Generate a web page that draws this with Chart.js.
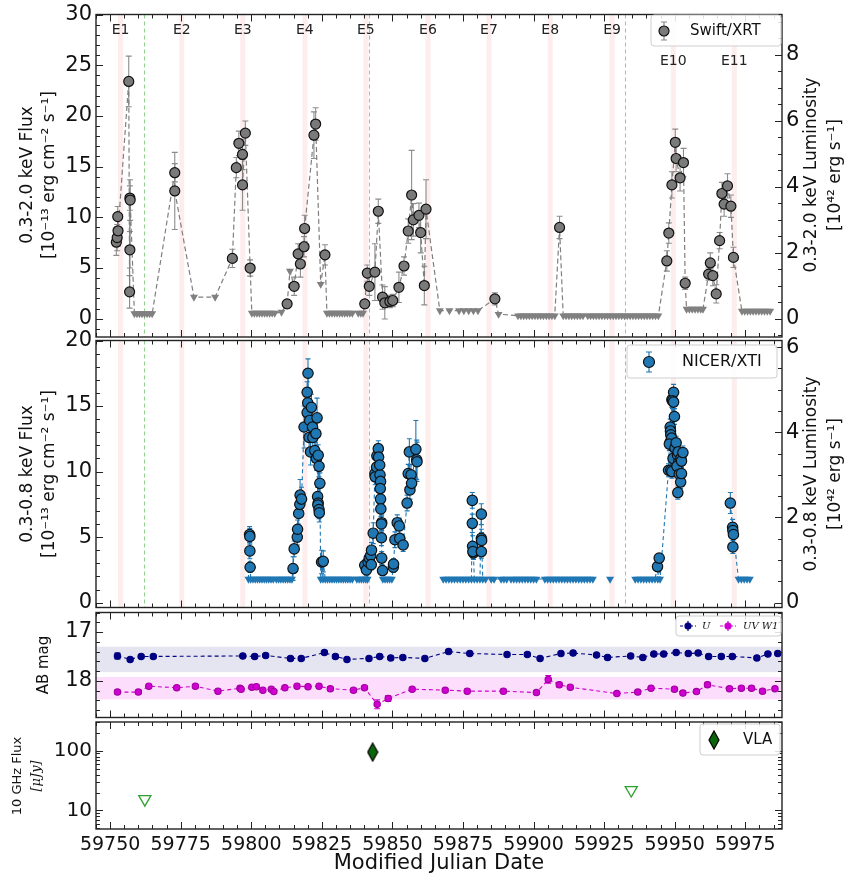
<!DOCTYPE html>
<html>
<head>
<meta charset="utf-8">
<script src="https://cdn.jsdelivr.net/npm/chart.js@4"></script>
<style>
  body { margin: 0; background: #fff; }
  #wrap { position: relative; width: 850px; height: 879px; }
  canvas { position: absolute; left: 0; }
</style>
</head>
<body>
<div id="wrap">
  <canvas id="c1" width="850" height="352" style="top:0px"></canvas>
  <canvas id="c2" width="850" height="296" style="top:326px"></canvas>
  <canvas id="c3" width="850" height="134" style="top:598px"></canvas>
  <canvas id="c4" width="850" height="171" style="top:708px"></canvas>
</div>
<script>
// ---- data ----
const eventT = [59753.7, 59775.4, 59797.0, 59819.0, 59840.6, 59862.6, 59884.2, 59905.9, 59927.8, 59949.5, 59971.1];
const eventLabels = ['E1', 'E2', 'E3', 'E4', 'E5', 'E6', 'E7', 'E8', 'E9', 'E10', 'E11'];
const vlaEpochs = [59761.9, 59841.7, 59932.5];

// Swift/XRT 0.3-2 keV flux (1e-13 cgs)
const swiftT = [59752.2, 59752.5, 59752.8, 59752.7, 59756.6, 59757.0, 59757.1, 59757.0, 59756.9,
  59772.9, 59772.9,
  59793.3, 59794.7, 59795.6, 59796.9, 59796.9, 59797.9, 59799.6,
  59812.7, 59815.2, 59816.6, 59817.4, 59818.7, 59818.9, 59822.2, 59822.8, 59826.1,
  59840.2, 59841.1, 59841.8, 59843.8, 59845.0, 59846.5, 59847.3, 59849.1, 59850.1, 59852.3, 59854.1, 59855.6, 59856.8, 59857.4, 59859.4, 59860.0, 59861.3, 59861.9,
  59886.3, 59909.2,
  59947.2, 59947.9, 59949.0, 59950.2, 59950.5, 59951.9, 59953.1, 59953.7,
  59962.0, 59962.6, 59963.5, 59964.7, 59965.9, 59966.7, 59967.5, 59968.7, 59969.9, 59970.8];
const swiftF = [7.55, 8.0, 8.67, 10.07, 23.4, 11.9, 11.7, 6.8, 2.65,
  14.4, 12.6,
  5.95, 14.9, 17.3, 16.2, 13.2, 18.3, 5.0,
  1.47, 3.2, 6.4, 5.4, 7.1, 8.9, 18.1, 19.2, 6.3,
  1.47, 4.5, 3.2, 4.6, 10.6, 2.13, 1.57, 1.7, 1.8, 3.1, 5.2, 8.65, 12.2, 9.75, 10.2, 8.5, 3.27, 10.8,
  1.96, 9.0,
  5.7, 8.45, 13.2, 17.4, 15.8, 13.9, 15.4, 3.5,
  4.4, 5.5, 4.25, 2.45, 7.7, 12.35, 11.3, 13.1, 11.1, 6.05];
const swiftE = [1.3, 1.3, 1.5, 1.0, 2.5, 1.2, 2.0, 1.8, 1.6,
  0.9, 3.8,
  0.9, 1.0, 1.2, 1.5, 2.5, 1.2, 0.8,
  0.4, 0.9, 1.0, 1.3, 1.0, 1.3, 2.3, 1.6, 1.0,
  0.4, 0.8, 0.9, 2.8, 1.2, 1.2, 1.6, 0.6, 0.6, 1.5, 0.9, 1.2, 4.4, 1.6, 1.2, 2.0, 1.9, 2.9,
  0.6, 1.1,
  1.0, 1.0, 1.3, 1.3, 1.3, 1.3, 1.4, 0.6,
  0.6, 1.0, 1.0, 0.9, 0.8, 1.1, 1.2, 1.2, 1.1, 1.0];
const swiftUlT = [59758.6, 59759.5, 59760.4, 59761.3, 59762.2, 59763.1, 59764.0, 59764.9,
  59779.7, 59787.2,
  59800.2, 59801.1, 59802.0, 59802.9, 59803.8, 59804.7, 59805.6, 59806.5, 59807.4, 59808.3, 59810.7,
  59813.7, 59824.6,
  59826.8, 59827.7, 59828.6, 59829.5, 59830.4, 59831.3, 59832.2, 59833.1, 59834.0, 59834.9, 59835.8, 59837.9, 59838.8, 59839.6,
  59866.8, 59870.2, 59873.6, 59875.3, 59877.0, 59878.7, 59880.3,
  59887.6,
  59894.5, 59895.5, 59896.5, 59897.5, 59898.5, 59899.5, 59900.5, 59901.5, 59902.5, 59903.5, 59904.5, 59905.5, 59906.5, 59907.5,
  59910.5, 59911.5, 59912.5, 59913.5, 59914.5, 59915.5, 59916.5, 59917.5,
  59919.2, 59920.2, 59921.2, 59922.2, 59923.2, 59924.2, 59925.2, 59926.2, 59927.2, 59928.2, 59929.2, 59930.2, 59931.2,
  59932.2, 59933.2, 59934.2, 59935.2, 59936.2, 59937.2, 59938.2, 59939.2, 59940.2, 59941.2, 59942.2, 59943.2, 59944.2,
  59954.2, 59955.2, 59956.2, 59957.2, 59958.2, 59959.2, 59960.0,
  59973.8, 59974.8, 59975.8, 59976.8, 59977.8, 59978.8, 59979.8, 59980.8, 59981.8, 59982.8, 59983.8];
const swiftUlF = [0.5, 0.5, 0.5, 0.5, 0.5, 0.5, 0.5, 0.5,
  2.13, 2.13,
  0.55, 0.55, 0.55, 0.55, 0.55, 0.55, 0.55, 0.55, 0.55, 0.55, 0.65,
  4.7, 3.4,
  0.55, 0.55, 0.55, 0.55, 0.55, 0.55, 0.55, 0.55, 0.55, 0.55, 0.55, 0.55, 0.55, 0.55,
  0.8, 0.8, 0.8, 0.8, 0.8, 0.8, 0.8,
  0.45,
  0.3, 0.3, 0.3, 0.3, 0.3, 0.3, 0.3, 0.3, 0.3, 0.3, 0.3, 0.3, 0.3, 0.3,
  0.3, 0.3, 0.3, 0.3, 0.3, 0.3, 0.3, 0.3,
  0.3, 0.3, 0.3, 0.3, 0.3, 0.3, 0.3, 0.3, 0.3, 0.3, 0.3, 0.3, 0.3,
  0.3, 0.3, 0.3, 0.3, 0.3, 0.3, 0.3, 0.3, 0.3, 0.3, 0.3, 0.3, 0.3,
  0.95, 0.95, 0.95, 0.95, 0.95, 0.95, 0.95,
  0.75, 0.75, 0.75, 0.75, 0.75, 0.75, 0.75, 0.75, 0.75, 0.75, 0.75];

// NICER/XTI 0.3-0.8 keV flux
const nicerT = [59799.4, 59799.5, 59799.5, 59799.6,
  59814.8, 59815.2, 59816.3, 59816.4, 59816.8, 59817.2, 59817.3, 59817.8,
  59818.7, 59819.8, 59820.1, 59820.0, 59819.8, 59820.7, 59821.3, 59820.5, 59821.0, 59821.7, 59821.8, 59822.9, 59823.3, 59822.5, 59823.1, 59823.7, 59824.0, 59824.3, 59823.5, 59823.7, 59823.6, 59824.0, 59824.1,
  59824.9, 59825.5,
  59840.2, 59840.8, 59841.4, 59841.8, 59842.3, 59842.6, 59842.5, 59843.2,
  59843.8, 59843.9, 59844.4, 59844.5, 59845.0, 59845.1, 59845.6, 59845.5, 59845.8, 59845.7, 59845.8, 59845.9, 59846.2, 59846.1, 59846.1, 59846.2, 59846.5,
  59850.3, 59850.4, 59850.9, 59851.7, 59852.4, 59852.6, 59853.8,
  59855.2, 59855.6, 59856.0, 59856.2, 59856.6, 59856.8, 59858.3, 59858.6, 59858.7,
  59878.3, 59878.3, 59878.4, 59878.7, 59878.5,
  59881.5, 59881.5, 59881.6, 59881.5,
  59943.9, 59944.5,
  59947.8, 59948.4, 59948.5, 59948.6, 59949.0, 59949.6, 59949.2, 59949.6, 59949.9, 59948.4, 59948.9, 59949.5, 59948.1, 59950.1, 59950.5,
  59948.6, 59949.0, 59949.4, 59951.0, 59951.2, 59951.4, 59950.8, 59952.2, 59952.4, 59951.6, 59952.1, 59952.4, 59951.1, 59952.9,
  59969.7, 59970.5, 59970.6, 59970.8, 59970.6];
const nicerF = [5.2, 5.05, 3.95, 2.7,
  2.6, 4.1, 5.0, 5.6, 6.8, 7.5, 8.2, 7.9,
  13.4, 16.05, 17.5, 15.25, 14.5, 13.9, 14.9, 12.6, 11.5, 13.4, 12.6, 12.9, 14.1, 11.6, 11.0, 11.25, 10.4, 9.1, 8.1, 7.6, 7.45, 7.1, 6.85,
  3.1, 3.15,
  2.85, 2.5, 3.1, 3.4, 3.6, 4.0, 2.9, 5.3,
  9.85, 9.6, 10.35, 11.2, 11.75, 11.1, 9.75, 10.5, 9.25, 8.7, 7.9, 7.15, 6.1, 6.0, 4.95, 3.4, 2.45,
  2.7, 2.95, 4.8, 6.1, 5.85, 4.9, 4.4,
  7.6, 9.85, 11.5, 8.6, 9.75, 9.1, 11.7, 10.9, 10.75,
  7.8, 6.05, 4.3, 3.8, 3.9,
  6.75, 4.9, 4.75, 3.9,
  2.75, 3.4,
  10.1, 13.4, 13.1, 12.8, 15.5, 16.05, 15.4, 15.3, 14.2, 12.25, 12.55, 11.9, 12.1, 11.8, 12.2,
  10.1, 10.0, 11.0, 11.25, 11.5, 10.7, 10.4, 11.0, 10.8, 9.8, 9.2, 9.85, 8.4, 11.45,
  7.6, 5.75, 5.5, 5.2, 4.25];
const nicerE = [0.6, 0.6, 0.6, 0.4,
  0.9, 0.6, 0.6, 0.7, 0.8, 0.8, 1.2, 0.9,
  1.6, 0.8, 1.1, 1.0, 1.0, 1.0, 1.0, 1.1, 1.0, 0.9, 1.0, 1.0, 1.5, 0.9, 0.9, 0.8, 0.8, 0.8, 0.7, 0.7, 0.7, 0.7, 0.7,
  0.9, 0.8,
  0.4, 0.4, 0.5, 0.5, 0.5, 0.6, 0.4, 0.8,
  0.6, 0.6, 0.7, 0.8, 0.6, 0.7, 0.7, 0.7, 0.6, 0.6, 0.6, 0.6, 0.6, 0.6, 0.6, 0.5, 0.4,
  0.4, 0.4, 0.6, 0.6, 0.6, 0.6, 0.5,
  0.6, 0.7, 1.0, 0.7, 0.8, 0.7, 2.2, 1.5, 1.5,
  0.6, 0.7, 0.8, 0.5, 0.5,
  0.8, 0.7, 0.6, 0.5,
  0.3, 0.3,
  0.5, 0.6, 0.5, 0.5, 0.6, 0.6, 0.6, 0.6, 0.6, 0.5, 0.5, 0.5, 0.5, 0.5, 0.5,
  0.5, 0.5, 0.5, 0.5, 0.5, 0.5, 0.5, 0.5, 0.5, 0.5, 0.5, 0.5, 0.5, 0.5,
  0.8, 0.6, 0.6, 0.6, 0.5];
const nicerUlT = [59799.0, 59799.8, 59800.6, 59801.4, 59802.2, 59803.0, 59803.8, 59804.6, 59805.4, 59806.2,
  59807.0, 59807.8, 59808.9, 59809.7, 59810.5, 59811.3, 59812.1, 59812.9, 59813.7, 59814.4,
  59824.6, 59825.4, 59826.2, 59827.0, 59827.8, 59828.6, 59829.4, 59830.2, 59831.0, 59831.8,
  59832.6, 59833.4, 59834.2, 59835.0, 59835.8, 59837.4, 59838.2, 59839.0, 59839.8, 59840.6, 59841.2,
  59846.6, 59847.4, 59848.2, 59849.0, 59849.8,
  59868, 59869, 59870, 59871, 59872, 59873, 59874, 59875, 59876, 59877, 59878, 59879, 59880, 59881, 59882, 59883,
  59885, 59886, 59888.5, 59889.5, 59890.5, 59892, 59893, 59894, 59895, 59896, 59897, 59898, 59899, 59900, 59901,
  59904, 59905, 59906, 59907, 59908, 59909, 59910, 59911, 59912, 59913, 59914, 59915, 59916, 59917, 59918, 59919, 59920, 59921,
  59927.1,
  59936, 59937, 59938, 59939, 59940, 59941, 59942, 59943, 59944, 59944.8,
  59972.6, 59973.6, 59974.6, 59975.6, 59976.6];
const nicerUlLevel = 1.8;

// Swift/UVOT AB magnitudes
const uT = [59752.6, 59757.1, 59761.0, 59765.3, 59797.0, 59801.2, 59805.1, 59813.9, 59817.7, 59825.9,
  59829.8, 59833.9, 59841.7, 59845.5, 59849.4, 59853.7, 59861.5, 59869.9, 59877.4, 59890.6,
  59897.8, 59902.3, 59909.7, 59914.0, 59922.3, 59926.2, 59934.4, 59938.7, 59942.6, 59946.1,
  59950.5, 59954.8, 59958.3, 59962.0, 59966.5, 59970.4, 59979.1, 59983.0, 59986.5];
const uMag = [17.49, 17.56, 17.5, 17.5, 17.49, 17.5, 17.48, 17.54, 17.54, 17.42,
  17.5, 17.56, 17.54, 17.5, 17.53, 17.52, 17.54, 17.4, 17.44, 17.46,
  17.46, 17.54, 17.44, 17.43, 17.47, 17.52, 17.49, 17.52, 17.45, 17.45,
  17.42, 17.44, 17.43, 17.5, 17.5, 17.5, 17.53, 17.45, 17.44];
const uErr = [0.06, 0.03, 0.03, 0.03, 0.03, 0.03, 0.03, 0.03, 0.03, 0.03,
  0.03, 0.03, 0.03, 0.03, 0.03, 0.03, 0.03, 0.03, 0.03, 0.03,
  0.03, 0.03, 0.03, 0.03, 0.03, 0.03, 0.03, 0.03, 0.03, 0.03,
  0.03, 0.03, 0.03, 0.03, 0.03, 0.03, 0.03, 0.03, 0.03];
const w1T = [59752.6, 59760.0, 59763.7, 59773.6, 59780.2, 59788.2, 59796.0, 59796.4, 59800.2, 59801.8,
  59804.1, 59807.1, 59808.0, 59811.9, 59816.2, 59820.1, 59824.0, 59828.0, 59836.2, 59840.1,
  59844.6, 59848.5, 59857.0, 59868.7, 59876.5, 59889.3, 59901.0, 59905.2, 59909.1, 59913.0,
  59929.5, 59936.9, 59941.6, 59949.9, 59952.9, 59957.7, 59961.6, 59969.4, 59973.6, 59977.2,
  59981.1, 59985.5];
const w1Mag = [18.23, 18.23, 18.11, 18.14, 18.11, 18.21, 18.15, 18.17, 18.13, 18.12,
  18.19, 18.17, 18.22, 18.14, 18.11, 18.12, 18.11, 18.16, 18.19, 18.14,
  18.48, 18.36, 18.17, 18.19, 18.21, 18.21, 18.24, 17.97, 18.08, 18.13,
  18.26, 18.23, 18.15, 18.17, 18.25, 18.22, 18.08, 18.16, 18.15, 18.15,
  18.21, 18.16];
const w1Err = [0.04, 0.04, 0.04, 0.04, 0.04, 0.04, 0.04, 0.04, 0.04, 0.04,
  0.04, 0.04, 0.04, 0.04, 0.04, 0.04, 0.04, 0.04, 0.04, 0.04,
  0.09, 0.06, 0.04, 0.04, 0.04, 0.04, 0.04, 0.08, 0.05, 0.04,
  0.04, 0.04, 0.04, 0.04, 0.04, 0.04, 0.05, 0.04, 0.04, 0.04,
  0.04, 0.04];
const uBand = [17.3, 17.82];
const w1Band = [17.92, 18.38];

// VLA 10 GHz (uJy)
const vlaT = [59843.0];
const vlaF = [95];
const vlaUlT = [59762.3, 59934.6];
const vlaUlF = [15.5, 22];

// ticks
const xMajor = [59750, 59775, 59800, 59825, 59850, 59875, 59900, 59925, 59950, 59975];
const flux1Ticks = [0, 5, 10, 15, 20, 25, 30];
const lum1Ticks = [0, 2, 4, 6, 8];
const flux2Ticks = [0, 5, 10, 15, 20];
const lum2Ticks = [0, 2, 4, 6];
const magTicks = [17, 18];
const radioTicks = [10, 100];
const radioMinor = [5, 6, 7, 8, 9, 20, 30, 40, 50, 60, 70, 80, 90, 200, 300];

// ---- drawing ----
const FONT = '"DejaVu Sans", sans-serif';
Chart.defaults.font.family = FONT;
Chart.defaults.color = '#111';
const X_MIN = 59745, X_MAX = 59988;
const LUM = 3.256;

function pts(t, v) { return t.map((x, i) => ({x: x, y: v[i]})); }
function range(a, b, s) { const r = []; for (let v = a; v <= b + 1e-9; v += s) r.push(+v.toFixed(3)); return r; }
function sorted(arr) { return arr.slice().sort((p, q) => p.x - q.x); }
function withBreaks(arr, gap) {
  const out = [];
  arr.forEach((p, i) => {
    if (i > 0 && p.x - arr[i - 1].x > gap) out.push({x: (p.x + arr[i - 1].x) / 2, y: null});
    out.push(p);
  });
  return out;
}

const diamond = document.createElement('canvas');
diamond.width = 12; diamond.height = 20;
(function () {
  const d = diamond.getContext('2d');
  d.beginPath(); d.moveTo(6, 1); d.lineTo(11, 10); d.lineTo(6, 19); d.lineTo(1, 10); d.closePath();
  d.fillStyle = '#0b650b'; d.fill(); d.strokeStyle = '#000'; d.lineWidth = 1.2; d.stroke();
})();

const cfg = {
  c1: { top: 0, events: true, vLines: true, eventText: true,
    lMajor: flux1Ticks, lMinor: range(-1, 29, 1), rScale: 'yR', rMajor: lum1Ticks, rMinor: range(-0.5, 9, 0.5),
    titles: [
      {t: '0.3-2.0 keV Flux', x: 28, y: 175, f: '17px ' + FONT},
      {t: '[10⁻¹³ erg cm⁻² s⁻¹]', x: 50, y: 175, f: '17px ' + FONT},
      {t: '0.3-2.0 keV Luminosity', x: 812, y: 175, f: '17px ' + FONT},
      {t: '[10⁴² erg s⁻¹]', x: 836, y: 175, f: '17px ' + FONT}] },
  c2: { top: 326, events: true, vLines: true,
    lMajor: flux2Ticks, lMinor: range(-0, 19, 1), rScale: 'yR', rMajor: lum2Ticks, rMinor: range(0, 6, 0.5),
    titles: [
      {t: '0.3-0.8 keV Flux', x: 28, y: 474, f: '17px ' + FONT},
      {t: '[10⁻¹³ erg cm⁻² s⁻¹]', x: 50, y: 474, f: '17px ' + FONT},
      {t: '0.3-0.8 keV Luminosity', x: 812, y: 474, f: '17px ' + FONT},
      {t: '[10⁴² erg s⁻¹]', x: 836, y: 474, f: '17px ' + FONT}] },
  c3: { top: 598, hBands: [{b: uBand, c: 'rgba(0,0,128,0.10)'}, {b: w1Band, c: 'rgba(235,0,235,0.13)'}],
    lMajor: magTicks, lMinor: range(16.6, 18.6, 0.2), rMajor: magTicks, rMinor: range(16.6, 18.6, 0.2),
    titles: [{t: 'AB mag', x: 44, y: 665, f: '15px ' + FONT}] },
  c4: { top: 708,
    lMajor: radioTicks, lMinor: radioMinor, rMajor: radioTicks, rMinor: radioMinor,
    titles: [
      {t: '10 GHz Flux', x: 18, y: 776, f: '13px ' + FONT},
      {t: '[μJy]', x: 37, y: 776, f: 'italic 13px "DejaVu Serif", serif'},
      {t: 'Modified Julian Date', x: 439, y: 864, f: '21px ' + FONT, flat: true}] }
};

function box(ctx, x, y, w, h) {
  ctx.save(); ctx.beginPath(); ctx.roundRect(x, y, w, h, 3);
  ctx.fillStyle = 'rgba(255,255,255,0.85)'; ctx.fill();
  ctx.strokeStyle = '#cfcfcf'; ctx.lineWidth = 1; ctx.stroke(); ctx.restore();
}
function errMark(ctx, x, y, h, cap, col, r, fill, edge) {
  ctx.strokeStyle = col; ctx.lineWidth = 1.2; ctx.beginPath();
  ctx.moveTo(x, y - h); ctx.lineTo(x, y + h);
  ctx.moveTo(x - cap, y - h); ctx.lineTo(x + cap, y - h);
  ctx.moveTo(x - cap, y + h); ctx.lineTo(x + cap, y + h); ctx.stroke();
  ctx.beginPath(); ctx.arc(x, y, r, 0, Math.PI * 2); ctx.fillStyle = fill; ctx.fill();
  ctx.strokeStyle = edge; ctx.lineWidth = 1.2; ctx.stroke();
}

const legends = {
  c1(ctx, o) {
    box(ctx, 651, 15 - o, 130, 31);
    errMark(ctx, 664, 31 - o, 9, 3, '#8a8a8a', 5, '#7a7a7a', '#111');
    ctx.fillStyle = '#111'; ctx.font = '15px ' + FONT; ctx.textAlign = 'left'; ctx.textBaseline = 'middle';
    ctx.fillText('Swift/XRT', 690, 31 - o);
  },
  c2(ctx, o) {
    box(ctx, 627, 345 - o, 150, 33);
    errMark(ctx, 649, 362 - o, 10, 3, '#1f77b4', 5.5, '#1f77b4', '#111');
    ctx.fillStyle = '#111'; ctx.font = '16px ' + FONT; ctx.textAlign = 'left'; ctx.textBaseline = 'middle';
    ctx.fillText('NICER/XTI', 682, 362 - o);
  },
  c3(ctx, o) {
    box(ctx, 676, 616 - o, 105, 20);
    const y = 626 - o;
    [[680, '#000080', 'U', 702], [720, '#d000d0', 'UV W1', 743]].forEach(([x0, c, t, tx]) => {
      ctx.strokeStyle = c; ctx.lineWidth = 1.2; ctx.setLineDash([3, 2]);
      ctx.beginPath(); ctx.moveTo(x0, y); ctx.lineTo(x0 + 16, y); ctx.stroke(); ctx.setLineDash([]);
      errMark(ctx, x0 + 8, y, 5, 0, c, 3, c, c);
      ctx.fillStyle = '#111'; ctx.font = 'italic 10px "DejaVu Serif", serif'; ctx.textAlign = 'left'; ctx.textBaseline = 'middle';
      ctx.fillText(t, tx, y);
    });
  },
  c4(ctx, o) {
    box(ctx, 700, 724 - o, 80, 31);
    ctx.drawImage(diamond, 714 - 6, 740 - o - 10);
    ctx.fillStyle = '#111'; ctx.font = '15px ' + FONT; ctx.textAlign = 'left'; ctx.textBaseline = 'middle';
    ctx.fillText('VLA', 743, 740 - o);
  }
};

const decor = {
  id: 'decor',
  beforeDatasetsDraw(chart) {
    const c = cfg[chart.canvas.id];
    const {ctx, chartArea: a} = chart;
    const x = chart.scales.x, y = chart.scales.y;
    ctx.save();
    ctx.beginPath(); ctx.rect(a.left, a.top, a.right - a.left, a.bottom - a.top); ctx.clip();
    (c.hBands || []).forEach(h => {
      const y0 = y.getPixelForValue(h.b[0]), y1 = y.getPixelForValue(h.b[1]);
      ctx.fillStyle = h.c; ctx.fillRect(a.left, Math.min(y0, y1), a.right - a.left, Math.abs(y1 - y0));
    });
    if (c.events) {
      ctx.fillStyle = 'rgba(250,150,150,0.17)';
      eventT.forEach(t => {
        const x0 = x.getPixelForValue(t - 0.9), x1 = x.getPixelForValue(t + 0.9);
        ctx.fillRect(x0, a.top, x1 - x0, a.bottom - a.top);
      });
    }
    if (c.vLines) {
      ctx.strokeStyle = '#8fd08f'; ctx.lineWidth = 1.1; ctx.setLineDash([4, 3]);
      vlaEpochs.forEach(t => {
        const xx = Math.round(x.getPixelForValue(t)) + 0.5;
        ctx.beginPath(); ctx.moveTo(xx, a.top); ctx.lineTo(xx, a.bottom); ctx.stroke();
      });
      ctx.setLineDash([]);
    }
    chart.data.datasets.forEach(ds => {
      if (!ds.errs) return;
      const ys = chart.scales[ds.yAxisID || 'y'];
      ctx.strokeStyle = ds.errColor; ctx.lineWidth = 1.1;
      const cap = ds.capW || 3;
      ds.data.forEach((p, i) => {
        const e = ds.errs[i] || 0;
        const xx = x.getPixelForValue(p.x);
        const yt = ys.getPixelForValue(p.y + e), yb = ys.getPixelForValue(p.y - e);
        ctx.beginPath();
        ctx.moveTo(xx, yt); ctx.lineTo(xx, yb);
        if (cap > 0) {
          ctx.moveTo(xx - cap, yt); ctx.lineTo(xx + cap, yt);
          ctx.moveTo(xx - cap, yb); ctx.lineTo(xx + cap, yb);
        }
        ctx.stroke();
      });
    });
    ctx.restore();
  },
  afterDraw(chart) {
    const id = chart.canvas.id, c = cfg[id];
    const {ctx, chartArea: a} = chart;
    const x = chart.scales.x, yl = chart.scales.y, yr = chart.scales[c.rScale || 'y'];
    const o = c.top;
    ctx.save();
    ctx.strokeStyle = '#222'; ctx.lineWidth = 1;
    const tick = (x0, y0, x1, y1) => { ctx.beginPath(); ctx.moveTo(x0, y0); ctx.lineTo(x1, y1); ctx.stroke(); };
    const xs = (vals, len) => vals.forEach(v => {
      const p = Math.round(x.getPixelForValue(v)) + 0.5;
      if (p < a.left || p > a.right) return;
      tick(p, a.bottom, p, a.bottom - len); tick(p, a.top, p, a.top + len);
    });
    const ys = (s, vals, len, left) => vals.forEach(v => {
      const p = Math.round(s.getPixelForValue(v)) + 0.5;
      if (p < a.top - 0.5 || p > a.bottom + 0.5) return;
      if (left) tick(a.left, p, a.left + len, p); else tick(a.right, p, a.right - len, p);
    });
    xs(range(X_MIN, X_MAX, 5), 4); xs(xMajor, 7);
    ys(yl, c.lMinor, 4, true); ys(yl, c.lMajor, 7, true);
    ys(yr, c.rMinor, 4, false); ys(yr, c.rMajor, 7, false);
    ctx.lineWidth = 1.4;
    ctx.strokeRect(a.left, a.top, a.right - a.left, a.bottom - a.top);

    ctx.fillStyle = '#111'; ctx.textAlign = 'center'; ctx.textBaseline = 'middle';
    c.titles.forEach(t => {
      ctx.save(); ctx.font = t.f; ctx.translate(t.x, t.y - o);
      if (!t.flat) ctx.rotate(-Math.PI / 2);
      ctx.fillText(t.t, 0, 0); ctx.restore();
    });
    if (c.eventText) {
      ctx.font = '14px ' + FONT; ctx.fillStyle = '#222';
      eventT.forEach((t, i) => ctx.fillText(eventLabels[i], x.getPixelForValue(t), (i < 9 ? 30 : 61) - o));
    }
    legends[id](ctx, o);
    ctx.restore();
  }
};

function xScale(show) {
  const s = { type: 'linear', min: X_MIN, max: X_MAX, display: show,
    grid: {display: false, drawTicks: false}, border: {display: false},
    ticks: {font: {family: FONT, size: 19, lineHeight: 1}, color: '#111', padding: 7, maxRotation: 0, callback: v => String(v)},
    afterBuildTicks: sc => { sc.ticks = xMajor.map(v => ({value: v})); } };
  if (show) s.afterFit = sc => { sc.height = 50; };
  return s;
}
function yScale(pos, min, max, major, size, extra) {
  return Object.assign({ type: 'linear', position: pos, min: min, max: max,
    grid: {display: false, drawTicks: false}, border: {display: false},
    ticks: {font: {family: FONT, size: size, lineHeight: 1}, color: '#111', padding: 4, callback: v => String(v)},
    afterBuildTicks: s => { s.ticks = major.map(v => ({value: v})); },
    afterFit: s => { s.width = pos === 'left' ? 96 : 68; } }, extra || {});
}
function options(padTop, padBottom, padRight, scales) {
  return { responsive: false, animation: false, devicePixelRatio: 1,
    layout: {padding: {top: padTop, bottom: padBottom, left: 0, right: padRight}},
    plugins: {legend: {display: false}, tooltip: {enabled: false}},
    scales: scales };
}

// Panel 1: Swift/XRT
const swiftDet = pts(swiftT, swiftF);
const swiftUl = pts(swiftUlT, swiftUlF);
new Chart(document.getElementById('c1'), {
  type: 'scatter',
  data: { datasets: [
    {data: sorted(swiftDet.concat(swiftUl)), showLine: true, borderColor: '#7f7f7f', borderWidth: 1.2, borderDash: [5, 3], pointRadius: 0, order: 3},
    {data: swiftUl, pointStyle: 'triangle', rotation: 180, pointRadius: 4.6, backgroundColor: '#808080', borderColor: '#808080', borderWidth: 0, order: 2},
    {data: swiftDet, errs: swiftE, errColor: '#8c8c8c', capW: 3, pointRadius: 5, backgroundColor: '#7a7a7a', borderColor: '#111', borderWidth: 1.2, order: 1}
  ] },
  options: options(12, 15, 0, {
    x: xScale(false),
    y: yScale('left', -1.8, 30, flux1Ticks, 21),
    yR: yScale('right', -1.8 / LUM, 30 / LUM, lum1Ticks, 21)
  }),
  plugins: [decor]
});

// Panel 2: NICER/XTI
const nicerDet = pts(nicerT, nicerF);
const nicerUl = nicerUlT.map(t => ({x: t, y: nicerUlLevel}));
new Chart(document.getElementById('c2'), {
  type: 'scatter',
  data: { datasets: [
    {data: withBreaks(sorted(nicerDet.concat(nicerUl)), 5), showLine: true, spanGaps: false, borderColor: '#1f77b4', borderWidth: 1.1, borderDash: [4, 3], pointRadius: 0, order: 3},
    {data: nicerUl, pointStyle: 'triangle', rotation: 180, pointRadius: 4.6, backgroundColor: '#1f77b4', borderColor: '#1f77b4', borderWidth: 0, order: 2},
    {data: nicerDet, errs: nicerE, errColor: '#1f77b4', capW: 2.5, pointRadius: 5.2, backgroundColor: '#1f77b4', borderColor: '#111', borderWidth: 1.2, order: 1}
  ] },
  options: options(12, 12, 0, {
    x: xScale(false),
    y: yScale('left', -0.37, 20, flux2Ticks, 21),
    yR: yScale('right', -0.37 / 3.25, 20 / 3.25, lum2Ticks, 21)
  }),
  plugins: [decor]
});

// Panel 3: UVOT
new Chart(document.getElementById('c3'), {
  type: 'scatter',
  data: { datasets: [
    {data: pts(uT, uMag), errs: uErr, errColor: '#000080', capW: 0, showLine: true, borderColor: '#000080', borderWidth: 1.1, borderDash: [4, 3],
      pointRadius: 3.2, backgroundColor: '#000080', pointBorderColor: '#000080', order: 1},
    {data: pts(w1T, w1Mag), errs: w1Err, errColor: '#d000d0', capW: 0, showLine: true, borderColor: '#d000d0', borderWidth: 1.1, borderDash: [4, 3],
      pointRadius: 3.2, backgroundColor: '#d000d0', pointBorderColor: '#a000a0', order: 2}
  ] },
  options: options(12, 13, 68, {
    x: xScale(false),
    y: yScale('left', 16.6, 18.75, magTicks, 21, {reverse: true})
  }),
  plugins: [decor]
});

// Panel 4: VLA
new Chart(document.getElementById('c4'), {
  type: 'scatter',
  data: { datasets: [
    {data: pts(vlaT, vlaF), pointStyle: diamond, pointRadius: 6, order: 1},
    {data: pts(vlaUlT, vlaUlF), pointStyle: 'triangle', rotation: 180, pointRadius: 7, backgroundColor: '#ffffff', borderColor: '#2ca02c', borderWidth: 1.3, order: 2}
  ] },
  options: options(12, 0, 68, {
    x: xScale(true),
    y: yScale('left', 4.9, 303, radioTicks, 20, {type: 'logarithmic'})
  }),
  plugins: [decor]
});
</script>
</body>
</html>
